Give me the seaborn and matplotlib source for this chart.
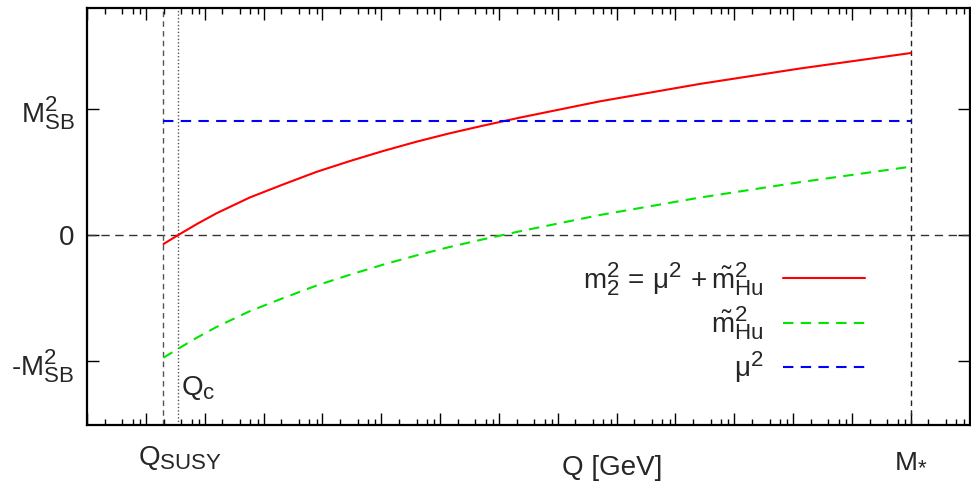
import matplotlib
matplotlib.use("Agg")
import matplotlib.pyplot as plt
import matplotlib.ticker as mticker
import matplotlib.transforms as mtransforms
import matplotlib._mathtext as _mathtext
import numpy as np
import pandas as pd
import seaborn as sns

# Running scale, log10(Q / GeV)
log10_q = [3.30, 3.55, 3.87, 4.20, 4.77, 5.33, 5.90, 6.47, 7.03, 7.60, 8.16,
           8.73, 9.35, 10.71, 12.41, 14.11, 16.00]
# Soft Higgs mass m~_Hu^2 in units of M_SB^2
m_hu2 = [-0.971, -0.900, -0.812, -0.728, -0.602, -0.500, -0.400, -0.314,
         -0.235, -0.161, -0.095, -0.034, 0.029, 0.158, 0.296, 0.418, 0.541]
# Supersymmetric Higgs mass mu^2 (scale independent here)
mu2 = 0.90

# Special scales, log10(Q / GeV)
log10_q_susy = 3.30
log10_q_c = 3.55
log10_m_star = 16.0

y_tick_values = [-1, 0, 1]
y_tick_labels = [r"-$\mathrm{M}^2_{\mathrm{SB}}$", "0", r"$\mathrm{M}^2_{\mathrm{SB}}$"]

label_m2 = r"$\mathrm{m}^2_2\,=\,\mathrm{μ}^2\,+\tilde{\mathrm{m}}^2_{\mathrm{Hu}}$"
label_mhu = r"$\tilde{\mathrm{m}}^2_{\mathrm{Hu}}$"
label_mu = r"$\mathrm{μ}^2$"

sns.set_theme(style="white")
plt.rcParams["font.family"] = ["Liberation Sans", "DejaVu Sans"]
plt.rcParams["mathtext.fontset"] = "custom"
plt.rcParams["mathtext.rm"] = "Liberation Sans"
plt.rcParams["mathtext.it"] = "Liberation Sans:italic"
plt.rcParams["mathtext.bf"] = "Liberation Sans:bold"
# slightly larger sub/superscripts
_mathtext.SHRINK_FACTOR = 0.8

FS = 20

q = np.power(10.0, log10_q)
q_susy = 10 ** log10_q_susy
q_c = 10 ** log10_q_c
m_star = 10 ** log10_m_star

df = pd.DataFrame({"Q": q, "mhu2": m_hu2})
df["m22"] = mu2 + df["mhu2"]
df_mu = pd.DataFrame({"Q": [q_susy, m_star], "mu2": [mu2, mu2]})

fig = plt.figure(figsize=(9.71, 4.87), dpi=100)
ax = fig.add_axes([87 / 971, 1 - 424.5 / 487, 882.5 / 971, (424.5 - 7.7) / 487])

# reference lines
ax.axhline(0, color="#333333", lw=1.0, dashes=(6, 4), zorder=1)
ax.axvline(q_susy, color="#555555", lw=1.0, dashes=(4, 3), zorder=1)
ax.axvline(q_c, color="#555555", lw=1.0, dashes=(1, 1.5), zorder=1)
ax.axvline(m_star, color="#222222", lw=1.0, dashes=(4, 3), zorder=1)

sns.lineplot(data=df, x="Q", y="m22", ax=ax, color="#ff0000", lw=1.5,
             label=label_m2, zorder=3)
sns.lineplot(data=df, x="Q", y="mhu2", ax=ax, color="#00e600", lw=1.5,
             linestyle=(0, (5, 3.5)), label=label_mhu, zorder=3)
sns.lineplot(data=df_mu, x="Q", y="mu2", ax=ax, color="#0000ff", lw=1.5,
             linestyle=(0, (5, 3.5)), label=label_mu, zorder=3)

ax.set_xscale("log")
ax.set_xlim(1e2, 1e17)
ax.set_ylim(-1.5, 1.8)
ax.xaxis.set_major_locator(mticker.LogLocator(base=10, numticks=40))
ax.xaxis.set_minor_locator(mticker.LogLocator(base=10, subs=[2, 4, 6, 8], numticks=40))
ax.xaxis.set_major_formatter(mticker.NullFormatter())
ax.xaxis.set_minor_formatter(mticker.NullFormatter())
ax.set_yticks(y_tick_values)
ax.set_yticklabels(y_tick_labels, fontsize=FS)
ax.tick_params(axis="both", which="both", direction="in", top=True, bottom=True,
               left=True, right=True, color="black")
ax.tick_params(axis="both", which="major", length=8.5, width=1.0, pad=9)
ax.tick_params(axis="x", which="minor", length=4.3, width=1.0)
ax.set_xlabel("")
ax.set_ylabel("")
for s in ax.spines.values():
    s.set_color("black")
    s.set_linewidth(1.6)

# scale labels below the axis
trans = mtransforms.blended_transform_factory(ax.transData, fig.transFigure)
ax.text(q_susy * 10 ** -0.44, 1 - 465 / 487, r"$\mathrm{Q}_{\mathrm{SUSY}}$",
        transform=trans, fontsize=FS, ha="left", va="baseline")
ax.text(m_star, 1 - 467 / 487, r"$\mathrm{M}_{*}$", transform=trans,
        fontsize=FS, ha="center", va="baseline")
fig.text(612 / 971, 1 - 475 / 487, "Q [GeV]", fontsize=FS, ha="center",
         va="baseline")
ax.text(q_c * 10 ** 0.05, -1.27, r"$\mathrm{Q}_{\mathrm{c}}$", fontsize=FS,
        ha="left", va="baseline")

leg = ax.legend(loc="center right", bbox_to_anchor=(0.897, 0.245),
                frameon=False, markerfirst=False, fontsize=FS,
                handlelength=2.95, handletextpad=0.7, labelspacing=0.25,
                borderpad=0)

fig.savefig("out.png", dpi=100)
